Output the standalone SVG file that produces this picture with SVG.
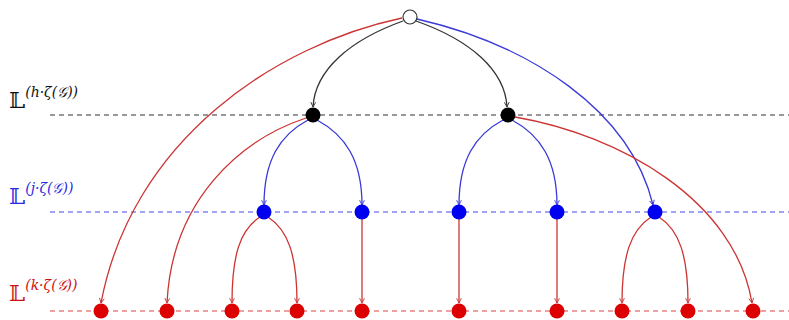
<svg xmlns="http://www.w3.org/2000/svg" width="789" height="320" viewBox="0 0 789 320">
<style>
.lvl{fill:none;stroke-width:1.2;stroke-dasharray:5,4}
.e{fill:none;stroke-width:1.3}
.ek{stroke:#333}
.eb{stroke:#3a3ad8}
.er{stroke:#cc3333}
.lab{font-family:"DejaVu Serif","DejaVu Sans",serif}
.sup{font-family:"DejaVu Serif","DejaVu Sans",serif;font-style:italic}
</style>
<defs>
<marker id="ak" viewBox="0 0 10 10" refX="9" refY="5" markerWidth="6" markerHeight="6" orient="auto" markerUnits="userSpaceOnUse"><path d="M1,1 L9,5 L1,9" fill="none" stroke="#333" stroke-width="1.5"/></marker>
<marker id="ab" viewBox="0 0 10 10" refX="9" refY="5" markerWidth="6" markerHeight="6" orient="auto" markerUnits="userSpaceOnUse"><path d="M1,1 L9,5 L1,9" fill="none" stroke="#3a3ad8" stroke-width="1.5"/></marker>
<marker id="ar" viewBox="0 0 10 10" refX="9" refY="5" markerWidth="6" markerHeight="6" orient="auto" markerUnits="userSpaceOnUse"><path d="M1,1 L9,5 L1,9" fill="none" stroke="#cc3333" stroke-width="1.5"/></marker>
</defs>
<g id="levels">
<line class="lvl" x1="50" y1="115" x2="789" y2="115" stroke="#333"/>
<line class="lvl" x1="50" y1="212" x2="789" y2="212" stroke="#4848e8"/>
<line class="lvl" x1="50" y1="311" x2="789" y2="311" stroke="#dd4444"/>
</g>
<g id="labels">
<text class="lab" x="9" y="108" font-size="23" fill="#111">𝕃<tspan class="sup" font-size="14" dy="-11">(h·ζ(𝒢))</tspan></text>
<text class="lab" x="9" y="204" font-size="23" fill="#2a2ae0">𝕃<tspan class="sup" font-size="14" dy="-11">(j·ζ(𝒢))</tspan></text>
<text class="lab" x="9" y="301" font-size="23" fill="#cc1111">𝕃<tspan class="sup" font-size="14" dy="-11">(k·ζ(𝒢))</tspan></text>
</g>
<g id="connectors">
<path class="e ek" d="M403,21 C350,40 315,70 313,107" marker-end="url(#ak)"/>
<path class="e ek" d="M416,21 C470,40 505,70 507,107" marker-end="url(#ak)"/>
<path class="e er" d="M402,18 C275,45 132,140 101,303" marker-end="url(#ar)"/>
<path class="e eb" d="M417,19 C530,45 630,110 653,205" marker-end="url(#ab)"/>
<path class="e eb" d="M308,120 C280,135 264,160 264,205" marker-end="url(#ab)"/>
<path class="e eb" d="M317,120 C345,135 362,160 362,205" marker-end="url(#ab)"/>
<path class="e er" d="M306,118 C240,140 172,200 167,303" marker-end="url(#ar)"/>
<path class="e eb" d="M503,120 C475,135 459,160 459,205" marker-end="url(#ab)"/>
<path class="e eb" d="M512,120 C540,135 557,160 557,205" marker-end="url(#ab)"/>
<path class="e er" d="M515,117 C620,135 735,200 752,303" marker-end="url(#ar)"/>
<path class="e er" d="M260,217 C240,230 232,255 232,303" marker-end="url(#ar)"/>
<path class="e er" d="M268,217 C288,230 297,255 297,303" marker-end="url(#ar)"/>
<path class="e er" d="M362,218 L362,303" marker-end="url(#ar)"/>
<path class="e er" d="M459,218 L459,303" marker-end="url(#ar)"/>
<path class="e er" d="M557,218 L557,303" marker-end="url(#ar)"/>
<path class="e er" d="M651,217 C631,230 622,255 622,303" marker-end="url(#ar)"/>
<path class="e er" d="M659,217 C679,230 688,255 688,303" marker-end="url(#ar)"/>
</g>
<g id="root"><circle cx="410" cy="17" r="7" fill="#fff" stroke="#333" stroke-width="1.2"/></g>
<g id="h1"><circle cx="313" cy="115" r="7.5" fill="#000"/></g>
<g id="h2"><circle cx="508" cy="115" r="7.5" fill="#000"/></g>
<g id="j1"><circle cx="264" cy="212" r="7.5" fill="#0000f0"/></g>
<g id="j2"><circle cx="362" cy="212" r="7.5" fill="#0000f0"/></g>
<g id="j3"><circle cx="459" cy="212" r="7.5" fill="#0000f0"/></g>
<g id="j4"><circle cx="557" cy="212" r="7.5" fill="#0000f0"/></g>
<g id="j5"><circle cx="655" cy="212" r="7.5" fill="#0000f0"/></g>
<g id="k1"><circle cx="101" cy="311" r="7.5" fill="#dd0000"/></g>
<g id="k2"><circle cx="167" cy="311" r="7.5" fill="#dd0000"/></g>
<g id="k3"><circle cx="232" cy="311" r="7.5" fill="#dd0000"/></g>
<g id="k4"><circle cx="297" cy="311" r="7.5" fill="#dd0000"/></g>
<g id="k5"><circle cx="362" cy="311" r="7.5" fill="#dd0000"/></g>
<g id="k6"><circle cx="459" cy="311" r="7.5" fill="#dd0000"/></g>
<g id="k7"><circle cx="557" cy="311" r="7.5" fill="#dd0000"/></g>
<g id="k8"><circle cx="622" cy="311" r="7.5" fill="#dd0000"/></g>
<g id="k9"><circle cx="688" cy="311" r="7.5" fill="#dd0000"/></g>
<g id="k10"><circle cx="753" cy="311" r="7.5" fill="#dd0000"/></g>
</svg>
